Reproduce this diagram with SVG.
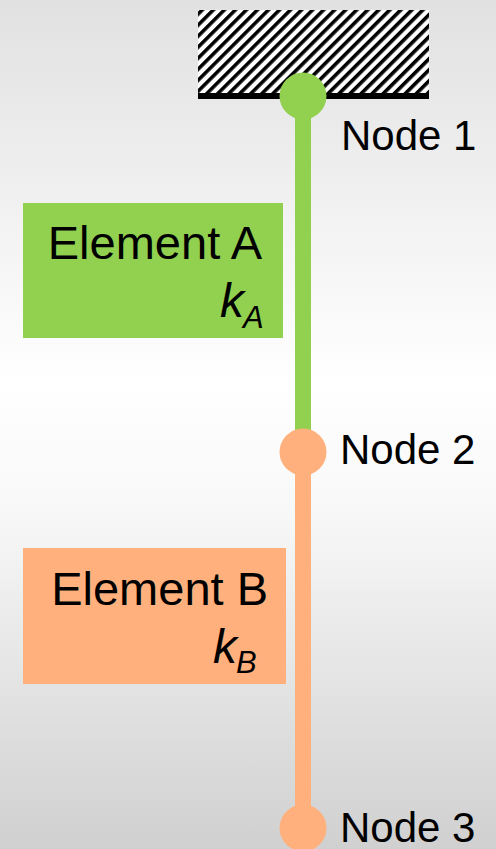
<svg xmlns="http://www.w3.org/2000/svg" width="496" height="849" viewBox="0 0 496 849">
  <defs>
    <linearGradient id="bg" x1="0" y1="0" x2="0" y2="1">
      <stop offset="0" stop-color="#e1e1e1"/>
      <stop offset="0.45" stop-color="#ffffff"/>
      <stop offset="0.6" stop-color="#f8f8f8"/>
      <stop offset="1" stop-color="#d0d0d0"/>
    </linearGradient>
    <pattern id="hatch" patternUnits="userSpaceOnUse" width="7.8" height="7.8" patternTransform="rotate(45)">
      <rect x="0" y="0" width="7.8" height="7.8" fill="#ffffff"/>
      <rect x="0" y="0" width="3.6" height="7.8" fill="#000000"/>
    </pattern>
    <style>
      .lbl { font-family: "Liberation Sans", Arial, sans-serif; font-size: 42px; fill: #000; }
      .el { font-family: "Liberation Sans", Arial, sans-serif; font-size: 47px; fill: #000; text-anchor: end; }
      .k { font-family: "Liberation Sans", Arial, sans-serif; font-style: italic; fill: #000; }
      .green { fill: #92d050; }
      .orange { fill: #ffb07c; }
    </style>
  </defs>
  <rect x="0" y="0" width="496" height="849" fill="url(#bg)"/>

  <g id="support">
    <rect x="198" y="10" width="231" height="85" fill="url(#hatch)"/>
    <rect x="198" y="93" width="231" height="6" fill="#000"/>
  </g>

  <g id="connectors">
    <rect x="295" y="96" width="16" height="356" class="green"/>
    <rect x="295" y="452" width="16" height="376" class="orange"/>
  </g>

  <g id="element-a">
    <rect x="23" y="203" width="260" height="135" class="green"/>
    <text class="el" x="262" y="259">Element A</text>
    <text class="k" x="220" y="317" font-size="48">k</text>
    <text class="k" x="243" y="328" font-size="31">A</text>
  </g>

  <g id="element-b">
    <rect x="23" y="548" width="263" height="136" class="orange"/>
    <text class="el" x="268" y="605">Element B</text>
    <text class="k" x="213" y="663" font-size="48">k</text>
    <text class="k" x="236" y="673" font-size="31">B</text>
  </g>

  <g id="node-1">
    <circle cx="303" cy="96" r="23.5" class="green"/>
    <text class="lbl" x="341" y="150">Node 1</text>
  </g>
  <g id="node-2">
    <circle cx="303" cy="452" r="23.5" class="orange"/>
    <text class="lbl" x="340" y="464">Node 2</text>
  </g>
  <g id="node-3">
    <circle cx="303" cy="828" r="23.5" class="orange"/>
    <text class="lbl" x="340" y="842">Node 3</text>
  </g>
</svg>
